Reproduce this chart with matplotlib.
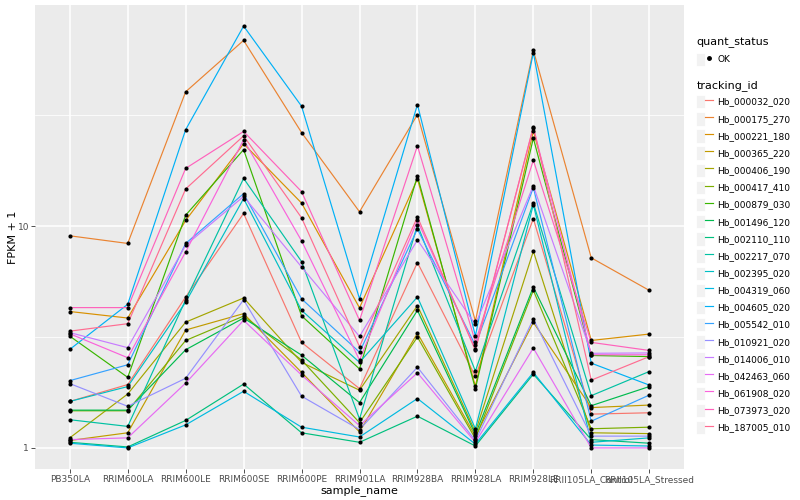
import matplotlib
matplotlib.use("Agg")
import matplotlib.pyplot as plt
from matplotlib.lines import Line2D
from matplotlib.patches import Rectangle
from matplotlib.legend_handler import HandlerTuple
from matplotlib.ticker import FixedLocator, NullFormatter
import numpy as np

samples = ["PB350LA", "RRIM600LA", "RRIM600LE", "RRIM600SE", "RRIM600PE", "RRIM901LA",
           "RRIM928BA", "RRIM928LA", "RRIM928LE", "RRII105LA_Control", "RRII105LA_Stressed"]

# FPKM per sample (plotted as FPKM + 1)
hb_000032_020 = [0.62, 0.93, 3.79, 10.4, 1.99, 0.85, 5.85, 1.10, 9.8, 0.42, 0.44]
hb_000175_270 = [8.04, 7.35, 39.3, 67.7, 25.4, 10.6, 30.8, 2.73, 61.0, 6.19, 4.13]
hb_000221_180 = [3.12, 2.85, 9.6, 22.5, 11.7, 3.28, 15.3, 0.90, 25.8, 2.05, 2.26]
hb_000365_220 = [0.08, 0.17, 2.40, 3.03, 1.19, 0.18, 2.29, 0.13, 2.68, 0.52, 0.56]
hb_000406_190 = [0.11, 0.75, 2.69, 3.74, 1.43, 0.82, 3.38, 0.18, 6.7, 0.17, 0.16]
hb_000417_410 = [0.47, 0.47, 2.05, 2.93, 1.49, 0.30, 2.16, 0.10, 4.13, 0.22, 0.24]
hb_000879_030 = [2.19, 1.08, 10.2, 21.1, 2.94, 1.27, 15.8, 0.85, 23.9, 1.61, 1.58]
hb_001496_120 = [0.48, 0.48, 1.77, 2.85, 1.62, 0.60, 3.17, 0.15, 4.31, 0.55, 0.89]
hb_002110_110 = [0.06, 0.01, 0.33, 0.94, 0.17, 0.06, 0.39, 0.02, 1.15, 0.09, 0.05]
hb_002217_070 = [0.34, 0.25, 3.65, 15.4, 5.92, 0.35, 9.1, 1.22, 11.7, 0.72, 1.21]
hb_002395_020 = [0.62, 0.89, 3.54, 12.3, 3.17, 1.43, 3.79, 0.22, 11.5, 0.06, 0.11]
hb_004319_060 = [0.05, 0.00, 0.27, 0.80, 0.24, 0.12, 0.67, 0.04, 1.19, 0.03, 0.02]
hb_004605_020 = [1.78, 3.44, 26.2, 78.7, 33.7, 3.70, 34.3, 2.20, 59.5, 1.41, 0.92]
hb_005542_010 = [1.01, 1.37, 7.35, 13.0, 3.70, 1.70, 8.7, 1.90, 13.9, 0.32, 0.73]
hb_010921_020 = [0.95, 0.54, 1.06, 3.65, 0.71, 0.21, 1.31, 0.08, 2.81, 0.13, 0.13]
hb_014006_010 = [2.31, 1.83, 7.2, 12.6, 5.54, 2.18, 7.66, 2.60, 14.2, 1.67, 1.68]
hb_042463_060 = [0.09, 0.11, 0.96, 2.76, 1.13, 0.26, 1.18, 0.06, 1.82, 0.00, 0.00]
hb_061908_020 = [2.27, 1.55, 6.65, 23.5, 7.58, 1.49, 9.6, 1.80, 26.8, 1.63, 1.63]
hb_073973_020 = [3.29, 3.29, 17.2, 25.7, 13.3, 2.76, 22.0, 2.00, 18.8, 1.99, 1.75]
hb_187005_010 = [2.36, 2.63, 13.7, 24.5, 9.9, 1.86, 10.0, 1.75, 27.1, 1.02, 1.58]

tracking_ids = ["Hb_000032_020", "Hb_000175_270", "Hb_000221_180", "Hb_000365_220",
                "Hb_000406_190", "Hb_000417_410", "Hb_000879_030", "Hb_001496_120",
                "Hb_002110_110", "Hb_002217_070", "Hb_002395_020", "Hb_004319_060",
                "Hb_004605_020", "Hb_005542_010", "Hb_010921_020", "Hb_014006_010",
                "Hb_042463_060", "Hb_061908_020", "Hb_073973_020", "Hb_187005_010"]
series = [hb_000032_020, hb_000175_270, hb_000221_180, hb_000365_220, hb_000406_190,
          hb_000417_410, hb_000879_030, hb_001496_120, hb_002110_110, hb_002217_070,
          hb_002395_020, hb_004319_060, hb_004605_020, hb_005542_010, hb_010921_020,
          hb_014006_010, hb_042463_060, hb_061908_020, hb_073973_020, hb_187005_010]

# ggplot2 default hue palette for 20 levels
colors = ["#F8766D", "#EA8331", "#D89000", "#C09B00", "#A3A500", "#7CAE00", "#39B600",
          "#00BB4E", "#00BF7D", "#00C1A3", "#00BFC4", "#00BAE0", "#00B0F6", "#35A2FF",
          "#9590FF", "#C77CFF", "#E76BF3", "#FA62DB", "#FF62BC", "#FF6C91"]


def main():
    fig = plt.figure(figsize=(8, 5), dpi=100)
    ax = fig.add_axes([35 / 800, 31 / 500, 649 / 800, 464 / 500])
    ax.set_facecolor("#EBEBEB")
    x = np.arange(len(samples))

    for vals, col in zip(series, colors):
        ax.plot(x, np.array(vals) + 1, color=col, lw=0.85, zorder=2)
    for vals in series:
        ax.scatter(x, np.array(vals) + 1, s=9, color="black", marker="o", lw=0, zorder=3)

    ax.set_yscale("log")
    allv = np.concatenate([np.array(v) + 1 for v in series])
    lo, hi = np.log10(allv.min()), np.log10(allv.max())
    pad = (hi - lo) * 0.05
    ax.set_ylim(10 ** (lo - pad), 10 ** (hi + pad))
    ax.set_xlim(-0.6, len(samples) - 0.4)

    ax.yaxis.set_major_locator(FixedLocator([1, 10]))
    ax.set_yticklabels(["1", "10"])
    ax.yaxis.set_minor_locator(FixedLocator([10 ** 0.5, 10 ** 1.5]))
    ax.yaxis.set_minor_formatter(NullFormatter())
    ax.set_xticks(x)
    ax.set_xticklabels(samples)

    ax.grid(which="major", color="white", lw=1.1)
    ax.grid(which="minor", axis="y", color="white", lw=0.55)
    ax.set_axisbelow(True)
    for s in ax.spines.values():
        s.set_visible(False)
    ax.tick_params(which="major", length=2.75, width=0.6, color="#333333",
                   labelsize=6.5, labelcolor="#4D4D4D", pad=1.5)
    ax.tick_params(which="minor", length=0)

    ax.set_xlabel("sample_name", fontsize=8, labelpad=1)
    ax.set_ylabel("FPKM + 1", fontsize=8, labelpad=0)

    hmap = {tuple: HandlerTuple(ndivide=None, pad=0)}
    key_bg = lambda: Rectangle((0, 0), 1, 1, facecolor="#F2F2F2", edgecolor="white", lw=0.6)

    ok_handle = [(key_bg(), Line2D([], [], marker="o", color="black", ls="none", ms=2.5))]
    fig.legend(ok_handle, ["OK"], title="quant_status", loc="upper left",
               bbox_to_anchor=(690 / 800, 1 - 31 / 500), frameon=False, fontsize=6.5,
               title_fontsize=8, handler_map=hmap, handlelength=1.9, handleheight=1.9,
               handletextpad=0.4, alignment="left", borderpad=0.2)

    track_handles = [(key_bg(), Line2D([], [], color=c, lw=0.85)) for c in colors]
    fig.legend(track_handles, tracking_ids, title="tracking_id", loc="upper left",
               bbox_to_anchor=(690 / 800, 1 - 74 / 500), frameon=False, fontsize=6.5,
               title_fontsize=8, handler_map=hmap, handlelength=1.9, handleheight=1.9,
               handletextpad=0.4, labelspacing=0.42, alignment="left", borderpad=0.2)

    fig.savefig("out.png", dpi=100)


if __name__ == "__main__":
    main()
